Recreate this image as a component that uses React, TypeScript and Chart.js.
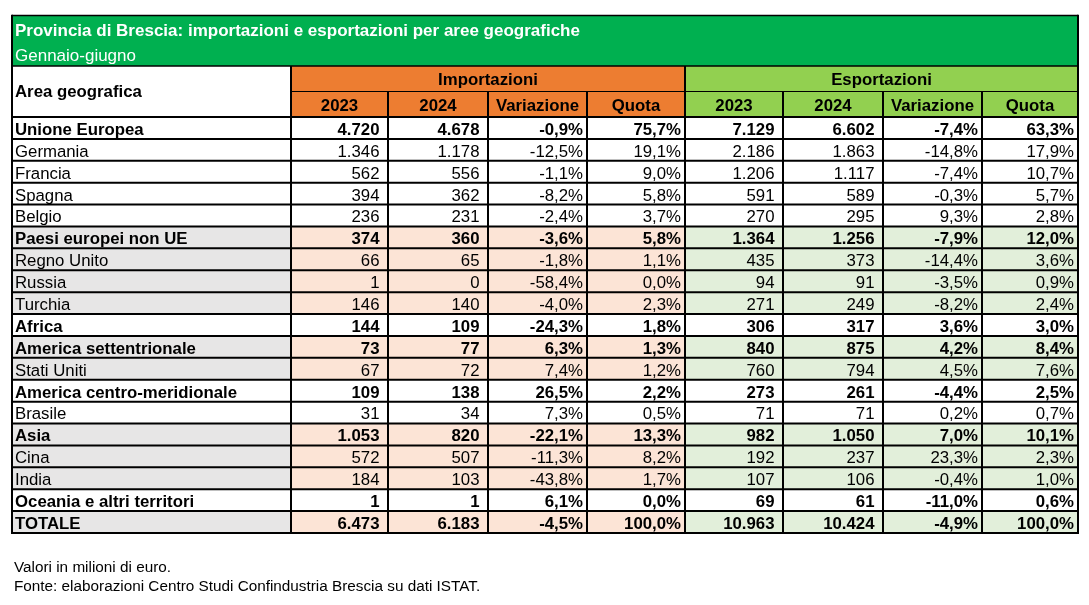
import React, { useEffect, useRef } from "react";
import { Chart, registerables } from "chart.js";

Chart.register(...registerables);

// ---------- DATA ----------
const TITLE = "Provincia di Brescia: importazioni e esportazioni per aree geografiche";
const SUBTITLE = "Gennaio-giugno";
const AREA_HEADER = "Area geografica";
const GROUP_LABELS = ["Importazioni", "Esportazioni"];
const SUB_LABELS = ["2023", "2024", "Variazione", "Quota"];
const NOTES = [
  "Valori in milioni di euro.",
  "Fonte: elaborazioni Centro Studi Confindustria Brescia su dati ISTAT.",
];

const AREAS = [
  "Unione Europea",
  "Germania",
  "Francia",
  "Spagna",
  "Belgio",
  "Paesi europei non UE",
  "Regno Unito",
  "Russia",
  "Turchia",
  "Africa",
  "America settentrionale",
  "Stati Uniti",
  "America centro-meridionale",
  "Brasile",
  "Asia",
  "Cina",
  "India",
  "Oceania e altri territori",
  "TOTALE",
];
// aggregate rows (bold)
const IS_AGGREGATE = [true, false, false, false, false, true, false, false, false, true, true, false, true, false, true, false, false, true, true];
// shaded row groups
const IS_SHADED = [false, false, false, false, false, true, true, true, true, false, true, true, false, false, true, true, true, false, true];

const IMP_2023 = [4720, 1346, 562, 394, 236, 374, 66, 1, 146, 144, 73, 67, 109, 31, 1053, 572, 184, 1, 6473];
const IMP_2024 = [4678, 1178, 556, 362, 231, 360, 65, 0, 140, 109, 77, 72, 138, 34, 820, 507, 103, 1, 6183];
const IMP_VAR = [-0.9, -12.5, -1.1, -8.2, -2.4, -3.6, -1.8, -58.4, -4.0, -24.3, 6.3, 7.4, 26.5, 7.3, -22.1, -11.3, -43.8, 6.1, -4.5];
const IMP_QUOTA = [75.7, 19.1, 9.0, 5.8, 3.7, 5.8, 1.1, 0.0, 2.3, 1.8, 1.3, 1.2, 2.2, 0.5, 13.3, 8.2, 1.7, 0.0, 100.0];

const EXP_2023 = [7129, 2186, 1206, 591, 270, 1364, 435, 94, 271, 306, 840, 760, 273, 71, 982, 192, 107, 69, 10963];
const EXP_2024 = [6602, 1863, 1117, 589, 295, 1256, 373, 91, 249, 317, 875, 794, 261, 71, 1050, 237, 106, 61, 10424];
const EXP_VAR = [-7.4, -14.8, -7.4, -0.3, 9.3, -7.9, -14.4, -3.5, -8.2, 3.6, 4.2, 4.5, -4.4, 0.2, 7.0, 23.3, -0.4, -11.0, -4.9];
const EXP_QUOTA = [63.3, 17.9, 10.7, 5.7, 2.8, 12.0, 3.6, 0.9, 2.4, 3.0, 8.4, 7.6, 2.5, 0.7, 10.1, 2.3, 1.0, 0.6, 100.0];

// ---------- LAYOUT / STYLE ----------
const W = 1089;
const H = 605;
const COL_EDGES = [0, 279, 376, 476, 575, 673, 771, 871, 970, 1066];
const TABLE_TOP = 15.5;
const TITLE_BOTTOM = 66;
const GROUP_BOTTOM = 91.5;
const BODY_TOP = 117;
const BODY_BOTTOM = 533;
const FONT_FAMILY = '"Liberation Sans", Arial, sans-serif';
const FS = 16.8;
const FS_TITLE = 17;
const FS_NOTE = 15.3;
const C_GREEN = "#00b050";
const C_ORANGE = "#ed7d31";
const C_LGREEN = "#92d050";
const C_GRAY = "#e7e6e6";
const C_PEACH = "#fce4d6";
const C_MINT = "#e2efda";

const fmtInt = (v: number) => {
  const s = Math.abs(v).toString();
  const out = s.replace(/\B(?=(\d{3})+(?!\d))/g, ".");
  return (v < 0 ? "-" : "") + out;
};
const fmtPct = (v: number) => v.toFixed(1).replace(".", ",") + "%";

const COLUMNS: { values: string[]; kind: "int" | "pct"; shade: string }[] = [
  { values: IMP_2023.map(fmtInt), kind: "int", shade: C_PEACH },
  { values: IMP_2024.map(fmtInt), kind: "int", shade: C_PEACH },
  { values: IMP_VAR.map(fmtPct), kind: "pct", shade: C_PEACH },
  { values: IMP_QUOTA.map(fmtPct), kind: "pct", shade: C_PEACH },
  { values: EXP_2023.map(fmtInt), kind: "int", shade: C_MINT },
  { values: EXP_2024.map(fmtInt), kind: "int", shade: C_MINT },
  { values: EXP_VAR.map(fmtPct), kind: "pct", shade: C_MINT },
  { values: EXP_QUOTA.map(fmtPct), kind: "pct", shade: C_MINT },
];

const tablePlugin = {
  id: "tablePlugin",
  afterDatasetsDraw(chart: any) {
    const ctx = chart.ctx as CanvasRenderingContext2D;
    const xs = chart.scales.x;
    const ys = chart.scales.y;
    const area = chart.chartArea;
    const ex = COL_EDGES.map((v) => xs.getPixelForValue(v));
    const step = ys.getPixelForValue(1) - ys.getPixelForValue(0);
    const top = area.top;
    const bottom = area.bottom;
    const L = ex[0];
    const R = ex[ex.length - 1];

    ctx.save();
    // header backgrounds
    ctx.fillStyle = C_GREEN;
    ctx.fillRect(L, TABLE_TOP, R - L, TITLE_BOTTOM - TABLE_TOP);
    ctx.fillStyle = "#ffffff";
    ctx.fillRect(L, TITLE_BOTTOM, ex[1] - L, top - TITLE_BOTTOM);
    ctx.fillStyle = C_ORANGE;
    ctx.fillRect(ex[1], TITLE_BOTTOM, ex[5] - ex[1], top - TITLE_BOTTOM);
    ctx.fillStyle = C_LGREEN;
    ctx.fillRect(ex[5], TITLE_BOTTOM, R - ex[5], top - TITLE_BOTTOM);

    // title texts
    ctx.textBaseline = "alphabetic";
    ctx.textAlign = "left";
    ctx.fillStyle = "#ffffff";
    ctx.font = `bold ${FS_TITLE}px ${FONT_FAMILY}`;
    ctx.fillText(TITLE, L + 3, 36.2);
    ctx.font = `${FS_TITLE}px ${FONT_FAMILY}`;
    ctx.fillText(SUBTITLE, L + 3, 60.7);

    // header texts
    ctx.fillStyle = "#000000";
    ctx.font = `bold ${FS}px ${FONT_FAMILY}`;
    ctx.fillText(AREA_HEADER, L + 3, 97);
    ctx.textAlign = "center";
    ctx.fillText(GROUP_LABELS[0], (ex[1] + ex[5]) / 2, 85);
    ctx.fillText(GROUP_LABELS[1], (ex[5] + R) / 2, 85);
    for (let g = 0; g < 2; g++) {
      for (let k = 0; k < 4; k++) {
        const i = 1 + g * 4 + k;
        ctx.fillText(SUB_LABELS[k], (ex[i] + ex[i + 1]) / 2, 110.7);
      }
    }

    // body texts
    AREAS.forEach((name, r) => {
      const by = ys.getPixelForValue(r) + 6.9;
      ctx.font = `${IS_AGGREGATE[r] ? "bold " : ""}${FS}px ${FONT_FAMILY}`;
      ctx.textAlign = "left";
      ctx.fillText(name, L + 3, by);
      ctx.textAlign = "right";
      COLUMNS.forEach((col, c) => {
        const pad = col.kind === "int" ? 8.5 : 4;
        ctx.fillText(col.values[r], ex[c + 2] - pad, by);
      });
    });

    // grid lines
    ctx.strokeStyle = "#000000";
    const line = (x1: number, y1: number, x2: number, y2: number, w: number) => {
      ctx.lineWidth = w;
      ctx.beginPath();
      ctx.moveTo(x1, y1);
      ctx.lineTo(x2, y2);
      ctx.stroke();
    };
    line(L - 1, TITLE_BOTTOM, R + 1, TITLE_BOTTOM, 1.5);
    line(ex[1], GROUP_BOTTOM, R, GROUP_BOTTOM, 1.2);
    for (let r = 0; r <= AREAS.length; r++) {
      const yy = r === 0 ? top : r === AREAS.length ? bottom : top + r * step;
      line(L - 1, yy, R + 1, yy, 2);
    }
    for (let i = 1; i < ex.length - 1; i++) {
      const y0 = i === 1 || i === 5 ? TITLE_BOTTOM : GROUP_BOTTOM;
      line(ex[i], y0, ex[i], bottom, 2);
    }
    line(L, TABLE_TOP, R, TABLE_TOP, 1.5);
    line(L, TABLE_TOP - 0.75, L, bottom + 1, 2);
    line(R, TABLE_TOP - 0.75, R, bottom + 1, 2);

    // notes
    ctx.textAlign = "left";
    ctx.font = `${FS_NOTE}px ${FONT_FAMILY}`;
    ctx.fillStyle = "#000000";
    ctx.fillText(NOTES[0], 14, 571.5);
    ctx.fillText(NOTES[1], 14, 590.5);
    ctx.restore();
  },
};

export default function App() {
  const ref = useRef<HTMLCanvasElement | null>(null);
  useEffect(() => {
    if (!ref.current) return;
    const datasets = [
      {
        label: AREA_HEADER,
        data: AREAS.map(() => [COL_EDGES[0], COL_EDGES[1]] as [number, number]),
        backgroundColor: AREAS.map((_, r) => (IS_SHADED[r] ? C_GRAY : "#ffffff")),
      },
      ...COLUMNS.map((col, c) => ({
        label: String(c),
        data: AREAS.map(() => [COL_EDGES[c + 1], COL_EDGES[c + 2]] as [number, number]),
        backgroundColor: AREAS.map((_, r) => (IS_SHADED[r] ? col.shade : "#ffffff")),
      })),
    ].map((d) => ({
      ...d,
      borderWidth: 0,
      barPercentage: 1,
      categoryPercentage: 1,
      grouped: false,
    }));

    const chart = new Chart(ref.current, {
      type: "bar",
      data: { labels: AREAS, datasets: datasets as any },
      options: {
        indexAxis: "y",
        responsive: false,
        animation: false,
        events: [],
        layout: { padding: { left: 12, right: W - 1078, top: BODY_TOP, bottom: H - BODY_BOTTOM } },
        plugins: { legend: { display: false }, tooltip: { enabled: false }, title: { display: false } },
        scales: {
          x: { type: "linear", min: COL_EDGES[0], max: COL_EDGES[COL_EDGES.length - 1], display: false },
          y: { type: "category", display: false, offset: true },
        },
      },
      plugins: [tablePlugin],
    });
    return () => chart.destroy();
  }, []);

  return (
    <div style={{ position: "fixed", left: 0, top: 0, width: W, height: H, background: "#ffffff" }}>
      <canvas ref={ref} width={W} height={H} style={{ display: "block" }} />
    </div>
  );
}
